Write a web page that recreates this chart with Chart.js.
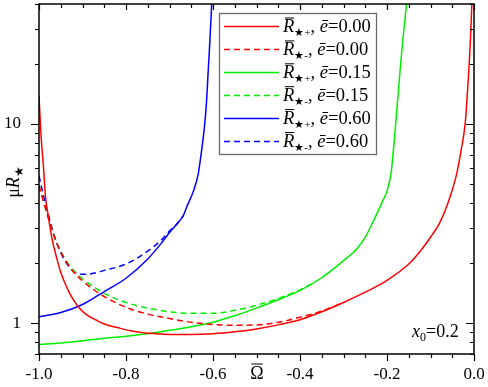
<!DOCTYPE html>
<html><head><meta charset="utf-8">
<script src="https://cdn.jsdelivr.net/npm/chart.js@4/dist/chart.umd.min.js"></script>
<style>html,body{margin:0;padding:0;background:#fff}#wrap{width:488px;height:387px;position:relative}</style>
</head><body><div id="wrap"><canvas id="c" width="488" height="387"></canvas></div>
<script>
// ---- data ----
const xTickValues = [-1.0, -0.8, -0.6, -0.4, -0.2, 0.0];
const xTickLabels = ['-1.0', '-0.8', '-0.6', '-0.4', '-0.2', '0.0'];
const yTickValues = [1, 10];
const yTickLabels = ['1', '10'];
const eValues = ['0.00', '0.00', '0.15', '0.15', '0.60', '0.60'];
const branchSigns = ['+', '-', '+', '-', '+', '-'];

// R+ , e = 0.00
const xRPlus000 = [-1, -0.995, -0.99, -0.985, -0.98, -0.97, -0.96, -0.95, -0.94, -0.93, -0.92, -0.91, -0.89, -0.87, -0.85, -0.82, -0.79, -0.76, -0.73, -0.7, -0.65, -0.6, -0.55, -0.5, -0.45, -0.4, -0.35, -0.3, -0.25, -0.2, -0.15, -0.12, -0.1, -0.08, -0.06, -0.04, -0.03, -0.02, -0.013, -0.008, -0.004];
const yRPlus000 = [13.8, 8.5, 6.2, 4.3, 3.6, 2.65, 2.15, 1.8, 1.58, 1.42, 1.3, 1.21, 1.1, 1.04, 0.99, 0.95, 0.915, 0.895, 0.885, 0.878, 0.878, 0.885, 0.905, 0.935, 0.98, 1.04, 1.14, 1.27, 1.43, 1.64, 1.98, 2.35, 2.7, 3.15, 4.0, 5.6, 7.3, 10.2, 17, 27, 45];
// R- , e = 0.00
const xRMinus000 = [-1, -0.99, -0.98, -0.97, -0.96, -0.94, -0.92, -0.9, -0.87, -0.85, -0.8, -0.75, -0.7, -0.65, -0.6, -0.55, -0.5, -0.45, -0.4, -0.35, -0.3];
const yRMinus000 = [4.9, 4.1, 3.45, 2.95, 2.55, 2.08, 1.8, 1.63, 1.45, 1.36, 1.2, 1.11, 1.055, 1.01, 0.985, 0.975, 0.98, 1.01, 1.07, 1.15, 1.27];
// R+ , e = 0.15
const xRPlus015 = [-1, -0.95, -0.9, -0.85, -0.8, -0.75, -0.7, -0.65, -0.6, -0.55, -0.5, -0.45, -0.4, -0.35, -0.3, -0.27, -0.25, -0.23, -0.21, -0.2, -0.19, -0.185, -0.18, -0.175, -0.17, -0.165, -0.16, -0.155, -0.15];
const yRPlus015 = [0.78, 0.795, 0.815, 0.84, 0.86, 0.885, 0.92, 0.96, 1.01, 1.09, 1.19, 1.31, 1.46, 1.69, 2.06, 2.35, 2.7, 3.3, 4.1, 4.6, 5.8, 7.5, 10.0, 13.6, 18.5, 24.5, 31.5, 40, 51];
// R- , e = 0.15
const xRMinus015 = [-1, -0.99, -0.98, -0.97, -0.96, -0.94, -0.92, -0.9, -0.87, -0.85, -0.8, -0.75, -0.7, -0.65, -0.6, -0.55, -0.5, -0.45, -0.4, -0.37];
const yRMinus015 = [4.9, 4.1, 3.45, 2.95, 2.55, 2.1, 1.83, 1.67, 1.5, 1.41, 1.27, 1.19, 1.14, 1.12, 1.12, 1.16, 1.23, 1.33, 1.47, 1.59];
// R+ , e = 0.60
const xRPlus060 = [-1, -0.95, -0.9, -0.85, -0.8, -0.75, -0.72, -0.7, -0.68, -0.668, -0.66, -0.645, -0.634, -0.63, -0.625, -0.62, -0.615, -0.611, -0.607, -0.603, -0.6];
const yRPlus060 = [1.075, 1.13, 1.24, 1.44, 1.68, 2.1, 2.5, 2.85, 3.2, 3.47, 3.85, 4.6, 5.6, 6.4, 7.7, 9.5, 12.8, 18.5, 26.5, 40, 55];
// R- , e = 0.60
const xRMinus060 = [-1, -0.99, -0.98, -0.97, -0.96, -0.94, -0.92, -0.9, -0.88, -0.85, -0.8, -0.75, -0.72, -0.7, -0.68, -0.668];
const yRMinus060 = [5.5, 4.4, 3.6, 3.0, 2.55, 2.05, 1.82, 1.76, 1.77, 1.84, 1.98, 2.3, 2.6, 2.9, 3.2, 3.47];

// ---- chart ----
const SERIF = "'Liberation Serif','Times New Roman',serif";
const RED = '#ff0000', GREEN = '#00ee00', BLUE = '#0000ff';
function series(xs, ys, color, dashed) {
  return {
    data: xs.map((x, i) => ({ x: x, y: ys[i] })),
    borderColor: color, borderWidth: 1.5, borderDash: dashed ? [6, 4] : [],
    pointRadius: 0, fill: false, cubicInterpolationMode: 'monotone'
  };
}
const datasets = [
  series(xRPlus000, yRPlus000, RED, false),
  series(xRMinus000, yRMinus000, RED, true),
  series(xRPlus015, yRPlus015, GREEN, false),
  series(xRMinus015, yRMinus015, GREEN, true),
  series(xRPlus060, yRPlus060, BLUE, false),
  series(xRMinus060, yRMinus060, BLUE, true)
];

function drawRich(ctx, parts, x, y) {
  for (const p of parts) {
    ctx.font = (p.italic ? 'italic ' : '') + p.size + 'px ' + SERIF;
    const w = ctx.measureText(p.t).width;
    ctx.fillText(p.t, x, y + (p.dy || 0));
    if (p.bar) {
      ctx.beginPath();
      ctx.lineWidth = 1;
      ctx.moveTo(x + p.bar[0], y - p.bar[2]);
      ctx.lineTo(x + w + p.bar[1], y - p.bar[2]);
      ctx.stroke();
    }
    x += w + (p.gap || 0);
  }
  return x;
}
function richWidth(ctx, parts) {
  let w = 0;
  for (const p of parts) { ctx.font = (p.italic ? 'italic ' : '') + p.size + 'px ' + SERIF; w += ctx.measureText(p.t).width + (p.gap || 0); }
  return w;
}

const decor = {
  id: 'decor',
  afterDraw(chart) {
    const ctx = chart.ctx, a = chart.chartArea;
    const xs = chart.scales.x, ys = chart.scales.y;
    ctx.save();
    ctx.strokeStyle = '#000'; ctx.fillStyle = '#000';
    // frame
    ctx.lineWidth = 1.5;
    ctx.strokeRect(a.left, a.top, a.right - a.left, a.bottom - a.top);
    // x ticks
    ctx.lineWidth = 1.2;
    for (let k = 0; k <= 20; k++) {
      const v = -1 + k * 0.05;
      const px = Math.round(xs.getPixelForValue(v)) + 0.5;
      const major = k % 4 === 0;
      ctx.beginPath();
      ctx.moveTo(px, a.bottom); ctx.lineTo(px, a.bottom + (major ? 7 : 4));
      ctx.moveTo(px, a.top); ctx.lineTo(px, a.top + (major ? 6 : 4));
      ctx.stroke();
    }
    // y ticks (log)
    const yt = [0.7, 0.8, 0.9, 1, 2, 3, 4, 5, 6, 7, 8, 9, 10, 20, 30, 40];
    for (const v of yt) {
      const py = Math.round(ys.getPixelForValue(v)) + 0.5;
      if (py < a.top - 1) continue;
      const major = (v === 1 || v === 10);
      ctx.beginPath();
      ctx.moveTo(a.left, py); ctx.lineTo(a.left - (major ? 8 : 4), py);
      ctx.moveTo(a.right, py); ctx.lineTo(a.right - (major ? 8 : 4), py);
      ctx.stroke();
    }
    // x axis title (Omega bar)
    ctx.textBaseline = 'alphabetic'; ctx.textAlign = 'left';
    ctx.font = '18px ' + SERIF;
    const ow = ctx.measureText('Ω').width;
    const ox = 257 - ow / 2, oy = 379;
    ctx.fillText('Ω', ox, oy);
    ctx.lineWidth = 1; ctx.beginPath(); ctx.moveTo(ox + 1, oy - 15); ctx.lineTo(ox + ow - 1, oy - 15); ctx.stroke();
    // y axis title
    ctx.save();
    ctx.translate(19, 182); ctx.rotate(-Math.PI / 2);
    const yparts = [{ t: 'μ', size: 18 }, { t: 'R', size: 18, italic: true }, { t: '★', size: 12, dy: 4 }];
    drawRich(ctx, yparts, -richWidth(ctx, yparts) / 2, 0);
    ctx.restore();
    // x0 annotation
    drawRich(ctx, [{ t: 'x', size: 18, italic: true }, { t: '0', size: 12, dy: 4 }, { t: '=0.2', size: 18 }], 412, 337);
    // legend
    ctx.fillStyle = '#fff';
    ctx.fillRect(219, 13, 157, 141);
    ctx.strokeStyle = '#6a6a6a'; ctx.lineWidth = 1.3;
    ctx.strokeRect(219.5, 13.5, 157, 141);
    chart.data.datasets.forEach((ds, i) => {
      const cy = 26 + i * 22.9;
      ctx.save();
      ctx.strokeStyle = ds.borderColor; ctx.lineWidth = 1.5; ctx.setLineDash(ds.borderDash);
      ctx.beginPath(); ctx.moveTo(224, Math.round(cy) + 0.5); ctx.lineTo(279, Math.round(cy) + 0.5); ctx.stroke();
      ctx.restore();
      ctx.fillStyle = '#000'; ctx.strokeStyle = '#000';
      drawRich(ctx, [
        { t: 'R', size: 18.5, italic: true, bar: [2, 0, 14] },
        { t: '★' + branchSigns[i], size: 11, dy: 4 },
        { t: ', ', size: 18.5 },
        { t: 'ē', size: 18.5, italic: true },
        { t: '=' + eValues[i], size: 18.5 }
      ], 283, cy + 6);
    });
    ctx.restore();
  }
};

new Chart(document.getElementById('c'), {
  type: 'line',
  data: { datasets: datasets },
  options: {
    responsive: false, animation: false, devicePixelRatio: 1,
    layout: { padding: { top: 4, right: 14, left: 0, bottom: 0 } },
    plugins: { legend: { display: false }, tooltip: { enabled: false } },
    scales: {
      x: {
        type: 'linear', min: -1, max: 0,
        grid: { display: false }, border: { display: false },
        afterBuildTicks(s) { s.ticks = xTickValues.map(v => ({ value: v })); },
        afterFit(s) { s.height = 33; s.paddingLeft = 0; s.paddingRight = 0; },
        ticks: { color: '#000', font: { family: SERIF, size: 17 }, padding: 2, maxRotation: 0, autoSkip: false,
          callback: (v, i) => xTickLabels[i] }
      },
      y: {
        type: 'logarithmic', min: 0.7, max: 40,
        grid: { display: false }, border: { display: false },
        afterBuildTicks(s) { s.ticks = yTickValues.map(v => ({ value: v })); },
        afterFit(s) { s.width = 39; s.paddingTop = 0; s.paddingBottom = 0; },
        ticks: { color: '#000', font: { family: SERIF, size: 17 }, padding: 10, autoSkip: false,
          callback: (v, i) => yTickLabels[i] }
      }
    }
  },
  plugins: [decor]
});
</script>
</body></html>
